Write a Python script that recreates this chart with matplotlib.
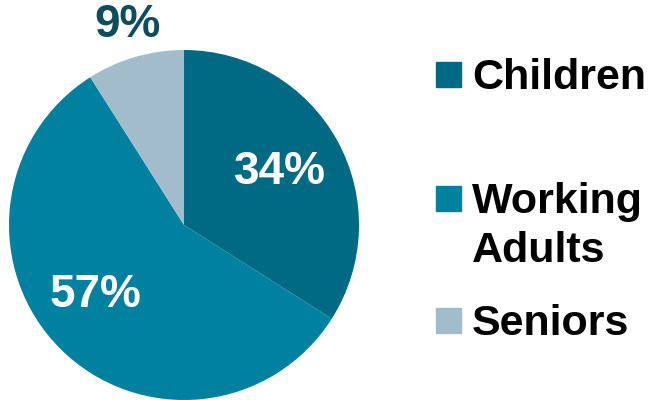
import matplotlib
matplotlib.use('Agg')
import matplotlib.pyplot as plt
from matplotlib.patches import Rectangle

plt.rcParams['font.family'] = ['Liberation Sans Narrow', 'Liberation Sans', 'DejaVu Sans']

groups = ['Children', 'Working\nAdults', 'Seniors']
shares = [34, 57, 9]
colors = ['#006A84', '#00819F', '#A3BCCB']

W, H = 648, 400
fig = plt.figure(figsize=(W / 100, H / 100), dpi=100)
ax = fig.add_axes([9 / W, 0, 350 / W, 350 / H])

wedges, _ = ax.pie(shares, colors=colors, startangle=90, counterclock=False,
                   radius=1, wedgeprops=dict(linewidth=0))
ax.set_xlim(-1, 1)
ax.set_ylim(-1, 1)
ax.set_aspect('equal')

# percent labels (pixel positions converted to data units)
lab_pos = [(280, 172), (96, 295), (128, 25)]
lab_col = ['white', 'white', '#0E4D5E']
for s, (px, py), c in zip(shares, lab_pos, lab_col):
    ax.text((px - 184) / 175, (225 - py) / 175, f'{s}%', color=c,
            fontsize=33, fontweight='bold', ha='center', va='center',
            family=['Liberation Sans', 'DejaVu Sans'])

# legend drawn by hand
sq_top = [62, 186, 308]
for g, c, t in zip(groups, colors, sq_top):
    fig.patches.append(Rectangle((436 / W, 1 - (t + 25) / H), 25 / W, 25 / H,
                                 transform=fig.transFigure, color=c))
    fig.text(472 / W, 1 - (t - 4) / H, g, fontsize=31, fontweight='bold',
             va='top', ha='left', linespacing=1.3)

fig.savefig('out.png', dpi=100)
